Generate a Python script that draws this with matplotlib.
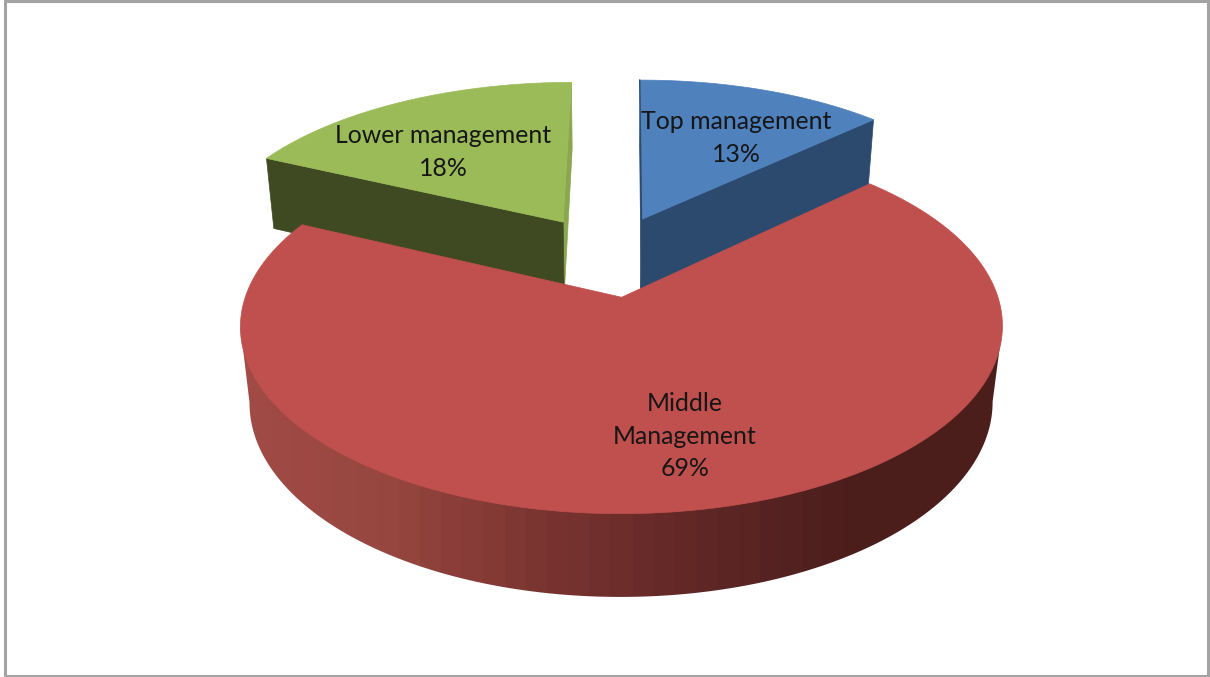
import numpy as np
import matplotlib
matplotlib.use("Agg")
import matplotlib.pyplot as plt
from matplotlib.patches import Polygon, Rectangle
from matplotlib.colors import LinearSegmentedColormap

# Survey shares by management level, clockwise from twelve o'clock
categories = ["Top management", "Middle\nManagement", "Lower management"]
shares = [13, 69, 18]
face_colors = ["#4f81bd", "#c0504d", "#9bbb59"]
cut_colors = ["#2c4a6e", "#4b1e1c", "#3f4a22"]
label_anchor = [(736, 138), (685, 436), (443, 152)]

# Perspective camera for the tilted, exploded pie
X0, Y0 = 608, 255.5
SCALE_X, SCALE_Y = 363, 170
TILT = 0.15
SKEW = 3.5
DROP = 76
SAG = 0.024
EXPLODE = 0.24
START_DEG = -0.2

rim_shade = LinearSegmentedColormap.from_list(
    "rim", ["#a24b47", "#96463f", "#7a3431", "#602726", "#4b1e1c", "#4b1e1c"])


def project(u, v, lower=0.0):
    """Map pie-plane coordinates to canvas pixels; lower=1 is the underside."""
    u, v = np.asarray(u, float), np.asarray(v, float)
    w = 1 + TILT * v + SAG * lower
    return X0 + SKEW * v + SCALE_X * u / w, Y0 + (-SCALE_Y * v + DROP * lower) / w


def xy(u, v, lower=0.0):
    return np.column_stack(project(u, v, lower))


fig = plt.figure(figsize=(12.10, 6.77), dpi=100, facecolor="white")
ax = fig.add_axes([0, 0, 1, 1])

ax.add_patch(Rectangle((4.5, 1.2), 1203.8, 674.3, fc="white", ec="#a3a3a3", lw=2.2, zorder=0))

fractions = np.array(shares) / sum(shares)
edges = np.concatenate([[0], np.cumsum(fractions)]) * 2 * np.pi + np.radians(START_DEG)
wedges = []
for i in range(len(shares)):
    a0, a1 = edges[i], edges[i + 1]
    mid = (a0 + a1) / 2
    wedges.append((a0, a1, EXPLODE * np.sin(mid), EXPLODE * np.cos(mid)))

# The two back slices go first, the large front slice overlaps them
for i in (0, 2, 1):
    a0, a1, cu, cv = wedges[i]
    t = np.linspace(a0, a1, 480)
    ru, rv = cu + np.sin(t), cv + np.cos(t)
    z = 2 + (i == 1) * 3

    if i == 1:
        # Outer wall: stepped horizontal gradient clipped to the wall silhouette
        top, bot = xy(ru, rv), xy(ru, rv, 1)
        tl, tr = np.argmin(top[:, 0]), np.argmax(top[:, 0])
        bl, br = np.argmin(bot[:, 0]), np.argmax(bot[:, 0])
        wall = Polygon(np.vstack([top[tl], top[tr], bot[br:bl + 1]]), fc="none", ec="none",
                       transform=ax.transData)
        ax.add_patch(wall)
        levels = np.round(np.linspace(0, 1, 400) * 36) / 36
        xmin, xmax = top[:, 0].min() - 2, top[:, 0].max() + 2
        ymin, ymax = top[:, 1].min(), bot[:, 1].max() + 2
        img = ax.imshow(levels[np.newaxis, :], cmap=rim_shade, vmin=0, vmax=1, aspect="auto",
                        extent=(xmin, xmax, ymax, ymin), interpolation="nearest", zorder=z)
        img.set_clip_path(wall)
    else:
        # Cut wall facing the viewer
        eu, ev = np.array([cu, ru[-1 if i == 0 else 0]]), np.array([cv, rv[-1 if i == 0 else 0]])
        ptop, pbot = xy(eu, ev), xy(eu, ev, 1)
        ax.add_patch(Polygon([ptop[0], ptop[1], pbot[1], pbot[0]], fc=cut_colors[i], ec=cut_colors[i], lw=0.5, zorder=z))
        # Slim inner cut wall beside the gap
        su, sv = np.array([cu, ru[0 if i == 0 else -1]]), np.array([cv, rv[0 if i == 0 else -1]])
        inner_top, inner_bot = xy(su, sv), xy(su, sv, 1)
        inner = "#8aa64f" if i == 2 else cut_colors[i]
        ax.add_patch(Polygon([inner_top[0], inner_top[1], inner_bot[1], inner_bot[0]], fc=inner, ec=inner, lw=0.5, zorder=z - 0.5))
        if i == 0:
            ax.plot(inner_top[:, 0] - 0.5, inner_top[:, 1], color=inner, lw=1.0, zorder=z + 0.6)
            ax.plot([inner_top[0, 0] - 0.5, inner_bot[0, 0] - 0.5], [inner_top[0, 1], inner_bot[0, 1]],
                    color=inner, lw=1.0, zorder=z + 0.6)

    outline = np.vstack([xy([cu], [cv]), xy(ru, rv)])
    ax.add_patch(Polygon(outline, fc=face_colors[i], ec=face_colors[i], lw=0.5, zorder=z + 0.5))

for name, share, (x, y) in zip(categories, shares, label_anchor):
    ax.text(x, y, f"{name}\n{share}%", ha="center", va="center", family="Lato",
            fontsize=17.9, color="#161616", linespacing=1.48, zorder=10)

ax.set_xlim(0, 1210)
ax.set_ylim(677, 0)
ax.axis("off")

fig.savefig("out.png", dpi=100)
